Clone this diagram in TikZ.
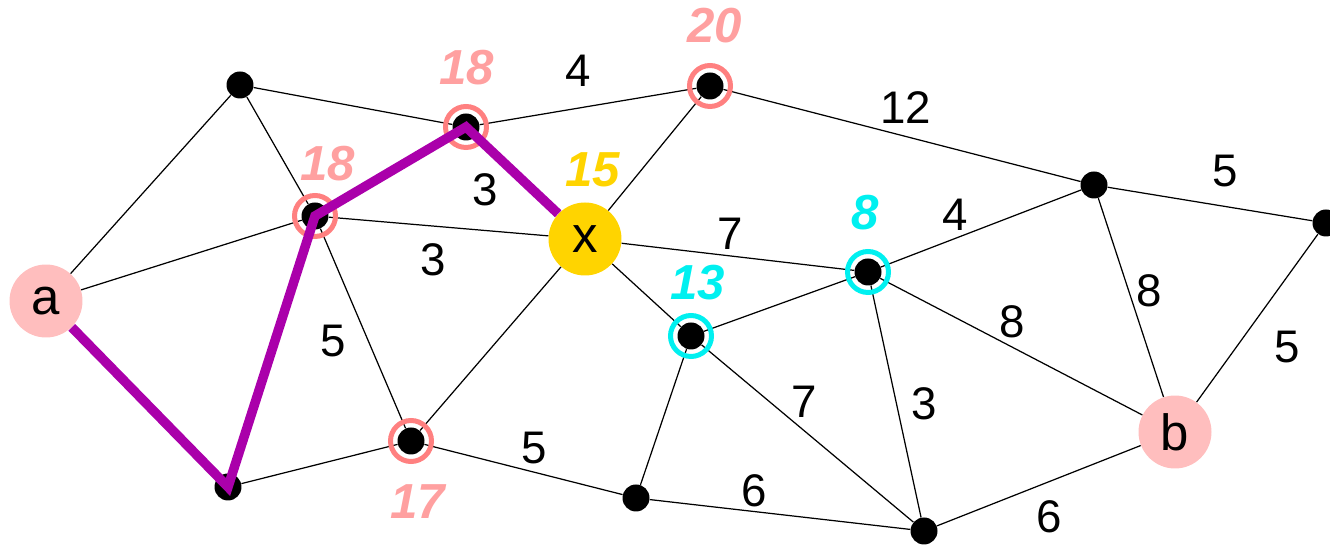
\documentclass[tikz,border=0pt]{standalone}
\usepackage{fontspec}
\setmainfont{Liberation Sans}
\usepackage{xcolor}
\usepackage{tikz}
\usetikzlibrary{calc}
\definecolor{ringred}{RGB}{255,128,128}
\definecolor{distred}{RGB}{255,160,160}
\definecolor{endpink}{RGB}{255,190,190}
\definecolor{srcgold}{RGB}{255,212,0}
\definecolor{ringcyan}{RGB}{0,240,240}
\definecolor{pathpurple}{RGB}{170,0,170}
\tikzset{
  gdot/.style={
    circle, fill=black, minimum size=0.54cm, inner sep=0pt
  },
  gend/.style={
    circle, fill=endpink, minimum size=1.46cm, inner sep=0pt,
    font=\fontsize{29}{33}\selectfont
  },
  gsource/.style={gend,fill=srcgold},
  gedge/.style={line width=0.7pt},
  gpath/.style={draw=pathpurple,line width=0.19cm,line join=miter},
  gring/.style={line width=0.1cm},
  gweight/.style={font=\fontsize{26}{30}\selectfont,inner sep=0pt},
  gdist/.style={font=\fontsize{28}{32}\selectfont\bfseries\itshape,inner sep=0pt}
}

\begin{document}
\begin{tikzpicture}[x=0.02cm,y=-0.02cm]
  \useasboundingbox (0,0) rectangle (1330,546);
  % vertices
  \node[gend] (a) at (46,301) {a};
  \node[gsource] (x) at (585,239) {x};
  \node[gend] (b) at (1175,432) {b};
  \node[gdot] (v1) at (240,85) {};
  \node[gdot] (v2) at (466,127) {};
  \node[gdot] (v3) at (710,86) {};
  \node[gdot] (v4) at (315,216) {};
  \node[gdot] (v5) at (868,272) {};
  \node[gdot] (v6) at (691,336) {};
  \node[gdot] (v7) at (1094,185) {};
  \node[gdot] (v8) at (1326,223) {};
  \node[gdot] (v9) at (411,441) {};
  \node[gdot] (v10) at (228,487) {};
  \node[gdot] (v11) at (636,498) {};
  \node[gdot] (v12) at (924,531) {};

  % edges
  \draw[gedge] (a) -- (v1);
  \draw[gedge] (a) -- (v4);
  \draw[gedge] (v1) -- (v2);
  \draw[gedge] (v1) -- (v4);
  \draw[gedge] (v2) -- (v3);
  \draw[gedge] (v3) -- (x);
  \draw[gedge] (v3) -- (v7);
  \draw[gedge] (v4) -- (x);
  \draw[gedge] (v4) -- (v9);
  \draw[gedge] (x) -- (v9);
  \draw[gedge] (x) -- (v5);
  \draw[gedge] (x) -- (v6);
  \draw[gedge] (v10) -- (v9);
  \draw[gedge] (v9) -- (v11);
  \draw[gedge] (v11) -- (v6);
  \draw[gedge] (v11) -- (v12);
  \draw[gedge] (v6) -- (v5);
  \draw[gedge] (v6) -- (v12);
  \draw[gedge] (v5) -- (v7);
  \draw[gedge] (v5) -- (v12);
  \draw[gedge] (v5) -- (b);
  \draw[gedge] (v7) -- (v8);
  \draw[gedge] (v7) -- (b);
  \draw[gedge] (v8) -- (b);
  \draw[gedge] (v12) -- (b);

  % weights
  \node[gweight] (w1) at (578,71) {4};
  \node[gweight] (w2) at (906,108) {12};
  \node[gweight] (w3) at (485,190) {3};
  \node[gweight] (w4) at (433,260) {3};
  \node[gweight] (w5) at (333,341) {5};
  \node[gweight] (w6) at (730,234) {7};
  \node[gweight] (w7) at (955,215) {4};
  \node[gweight] (w8) at (1225,171) {5};
  \node[gweight] (w9) at (1149,291) {8};
  \node[gweight] (w10) at (1012,322) {8};
  \node[gweight] (w11) at (1287,347) {5};
  \node[gweight] (w12) at (804,402) {7};
  \node[gweight] (w13) at (924,404) {3};
  \node[gweight] (w14) at (534,448) {5};
  \node[gweight] (w15) at (754,491) {6};
  \node[gweight] (w16) at (1049,517) {6};

  % rings and distances
  \draw[gring,ringred] (v2) circle (0.41cm);
  \draw[gring,ringred] (v3) circle (0.41cm);
  \draw[gring,ringred] (v4) circle (0.41cm);
  \draw[gring,ringred] (v9) circle (0.41cm);
  \draw[gring,ringcyan] (v5) circle (0.41cm);
  \draw[gring,ringcyan] (v6) circle (0.41cm);
  \node[gdist,distred] (d2) at (467,68) {18};
  \node[gdist,distred] (d3) at (715,26) {20};
  \node[gdist,distred] (d4) at (328,164) {18};
  \node[gdist,distred] (d9) at (418,502) {17};
  \node[gdist,srcgold] (dx) at (593,170) {15};
  \node[gdist,ringcyan] (d5) at (865,213) {8};
  \node[gdist,ringcyan] (d6) at (698,283) {13};

  % shortest path
  \draw[gpath] (a) -- (v10.center) -- (v4.center) -- (v2.center) -- (x);
\end{tikzpicture}
\end{document}
